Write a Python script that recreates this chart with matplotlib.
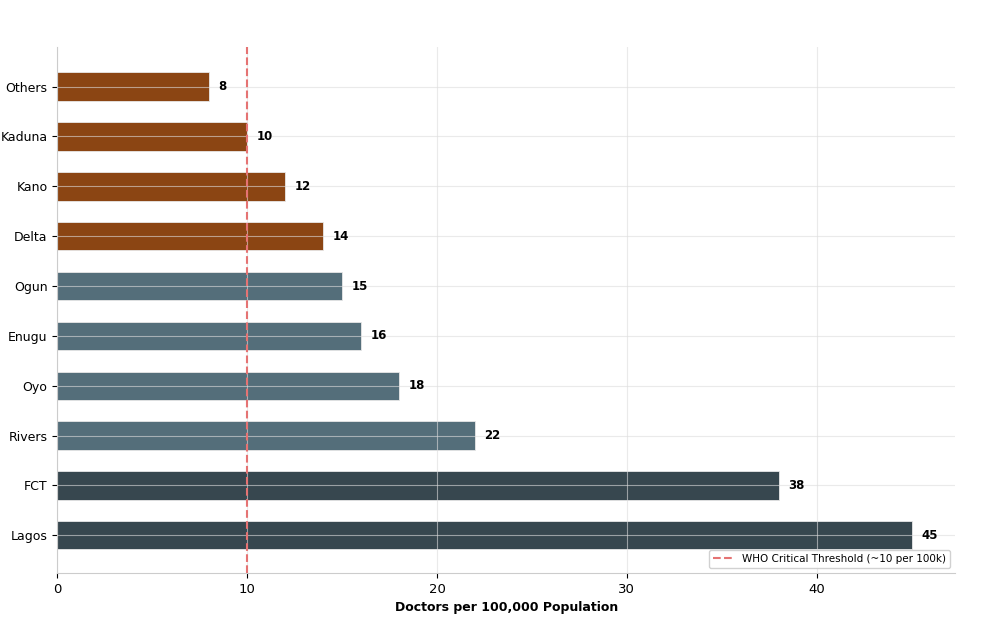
import numpy as np
import matplotlib.pyplot as plt

# Datos
estados = ['Lagos', 'FCT', 'Rivers', 'Oyo', 'Enugu', 'Ogun', 'Delta', 'Kano', 'Kaduna', 'Others']
medicos = [45, 38, 22, 18, 16, 15, 14, 12, 10, 8]
colores = ['#37474F', '#37474F', '#546E7A', '#546E7A', '#546E7A', '#546E7A',
           '#8B4513', '#8B4513', '#8B4513', '#8B4513']
umbral_oms = 10

fig, ax = plt.subplots(figsize=(9.87, 6.23), dpi=100)
fig.subplots_adjust(left=0.058, right=0.968, top=0.925, bottom=0.08)

y = np.arange(len(estados))
ax.barh(y, medicos, height=0.57, color=colores, edgecolor='#e8e8e8', linewidth=0.6)
ax.axvline(umbral_oms, color='#e57373', linestyle='--', linewidth=1.5,
           label='WHO Critical Threshold (~10 per 100k)')

for yi, v in zip(y, medicos):
    ax.text(v + 0.5, yi, f'{v}', va='center', ha='left', fontsize=8.5, fontweight='bold')

ax.set_yticks(y)
ax.set_yticklabels(estados, fontsize=9)
ax.tick_params(axis='x', labelsize=9.5)
ax.set_xlim(0, 47.3)
ax.set_ylim(-0.76, 9.8)
ax.set_xlabel('Doctors per 100,000 Population', fontsize=9, fontweight='bold')

ax.grid(True, color='#dddddd', linewidth=0.8, alpha=0.6)
for s in ['top', 'right']:
    ax.spines[s].set_visible(False)
for s in ['left', 'bottom']:
    ax.spines[s].set_color('#cccccc')

ax.legend(loc='lower right', fontsize=7.5, framealpha=0.9)

plt.savefig('out.png', dpi=100)
